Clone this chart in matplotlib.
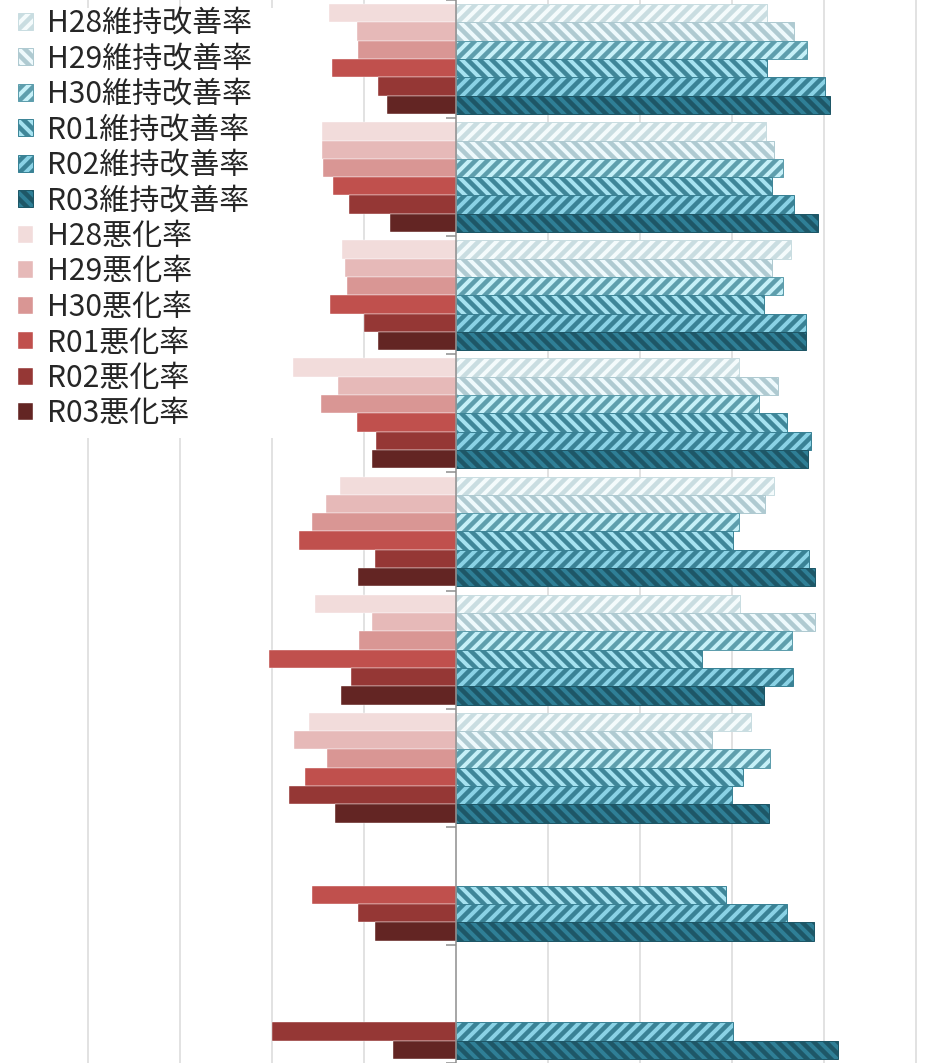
import numpy as np
import matplotlib.pyplot as plt
from matplotlib.patches import Rectangle

plt.rcParams['font.family'] = ['Noto Sans CJK JP', 'DejaVu Sans']
plt.rcParams['hatch.linewidth'] = 4.5

nan = np.nan

groups = ['区分1', '区分2', '区分3', '区分4', '区分5', '区分6', '区分7', '区分8', '区分9']
years = ['H28', 'H29', 'H30', 'R01', 'R02', 'R03']

# 維持改善率 (%)
kaizen_h28 = [33.8, 33.7, 36.4, 30.8, 34.6, 30.9, 32.1, nan, nan]
kaizen_h29 = [36.7, 34.6, 34.3, 35.0, 33.6, 39.0, 27.8, nan, nan]
kaizen_h30 = [38.2, 35.5, 35.5, 32.9, 30.8, 36.5, 34.1, nan, nan]
kaizen_r01 = [33.8, 34.3, 33.5, 36.0, 30.1, 26.7, 31.2, 29.3, nan]
kaizen_r02 = [40.1, 36.7, 38.0, 38.6, 38.4, 36.6, 30.0, 36.0, 30.1]
kaizen_r03 = [40.7, 39.3, 38.0, 38.3, 39.0, 33.5, 34.0, 38.9, 41.5]

# 悪化率 (%)
akka_h28 = [13.8, 14.6, 12.4, 17.7, 12.6, 15.3, 16.0, nan, nan]
akka_h29 = [10.8, 14.6, 12.1, 12.8, 14.1, 9.1, 17.6, nan, nan]
akka_h30 = [10.7, 14.5, 11.8, 14.7, 15.7, 10.5, 14.0, nan, nan]
akka_r01 = [13.5, 13.4, 13.7, 10.8, 17.1, 20.3, 16.4, 15.7, nan]
akka_r02 = [8.5, 11.6, 10.0, 8.7, 8.8, 11.4, 18.2, 10.7, 20.0]
akka_r03 = [7.5, 7.2, 8.5, 9.1, 10.7, 12.5, 13.2, 8.8, 6.8]

kaizen = [kaizen_h28, kaizen_h29, kaizen_h30, kaizen_r01, kaizen_r02, kaizen_r03]
akka = [akka_h28, akka_h29, akka_h30, akka_r01, akka_r02, akka_r03]

blue_face = ['#F4FBFC', '#EEF9FC', '#C6F0F8', '#A6E2F0', '#8AD2E5', '#2F7F96']
blue_hatch = ['#C9DDE1', '#AFCAD1', '#5E9EAD', '#3F8698', '#3A8295', '#1E5767']
hatches = ['//', '\\\\', '//', '\\\\', '//', '\\\\']
red_colors = ['#F2DCDB', '#E6B9B8', '#D99694', '#C0504D', '#953735', '#632523']

fig = plt.figure(figsize=(928 / 72, 1063 / 72), dpi=72)
ax = fig.add_axes([0, 0, 1, 1])

y = np.arange(len(groups))
h = 0.155

blue_bars = []
red_bars = []
for j in range(6):
    pos = y + (j - 2.5) * h
    k = np.array(kaizen[j])
    a = np.array(akka[j])
    mk = ~np.isnan(k)
    ma = ~np.isnan(a)
    b = ax.barh(pos[mk], k[mk], height=h, color=blue_face[j], edgecolor=blue_hatch[j],
                hatch=hatches[j], linewidth=1.0, zorder=2)
    r = ax.barh(pos[ma], -a[ma], height=h, color=red_colors[j], edgecolor='white',
                linewidth=0.4, zorder=2)
    blue_bars.append(b)
    red_bars.append(r)

ax.set_xlim(-456 / 9.2, 472 / 9.2)
ax.set_ylim((1063 - 53.5) / 119, -53.5 / 119)

for xv in [-40, -30, -20, -10, 10, 20, 30, 40, 50]:
    ax.axvline(xv, color='#D9D9D9', linewidth=1.5, zorder=1)

# white area behind the legend, hiding the gridlines there
ax.add_patch(Rectangle((0, 1 - 438 / 1063), 285 / 928, 430 / 1063, transform=fig.transFigure,
                       facecolor='white', edgecolor='none', zorder=1.5))

for s in ['top', 'right', 'bottom']:
    ax.spines[s].set_visible(False)
ax.spines['left'].set_position(('data', 0))
ax.spines['left'].set_color('#8C8C8C')
ax.spines['left'].set_linewidth(1.5)
ax.spines['left'].set_zorder(3)
ax.set_xticks([])
ax.set_yticks(np.arange(-0.5, len(groups) + 0.5, 1))
ax.tick_params(axis='y', direction='out', length=10, width=1.5, color='#8C8C8C', labelleft=False)

handles = blue_bars + red_bars
labels = [yr + '維持改善率' for yr in years] + [yr + '悪化率' for yr in years]
leg = ax.legend(handles, labels, loc='upper left', bbox_to_anchor=(15 / 928, 1 - 5 / 1063),
                bbox_transform=fig.transFigure, frameon=False, fontsize=30,
                handlelength=0.5, handleheight=0.5, handletextpad=0.45,
                labelspacing=0.15, borderpad=0.1, borderaxespad=0)
for t in leg.get_texts():
    t.set_color('#262626')
leg.set_zorder(5)

fig.savefig('out.png', dpi=72)
